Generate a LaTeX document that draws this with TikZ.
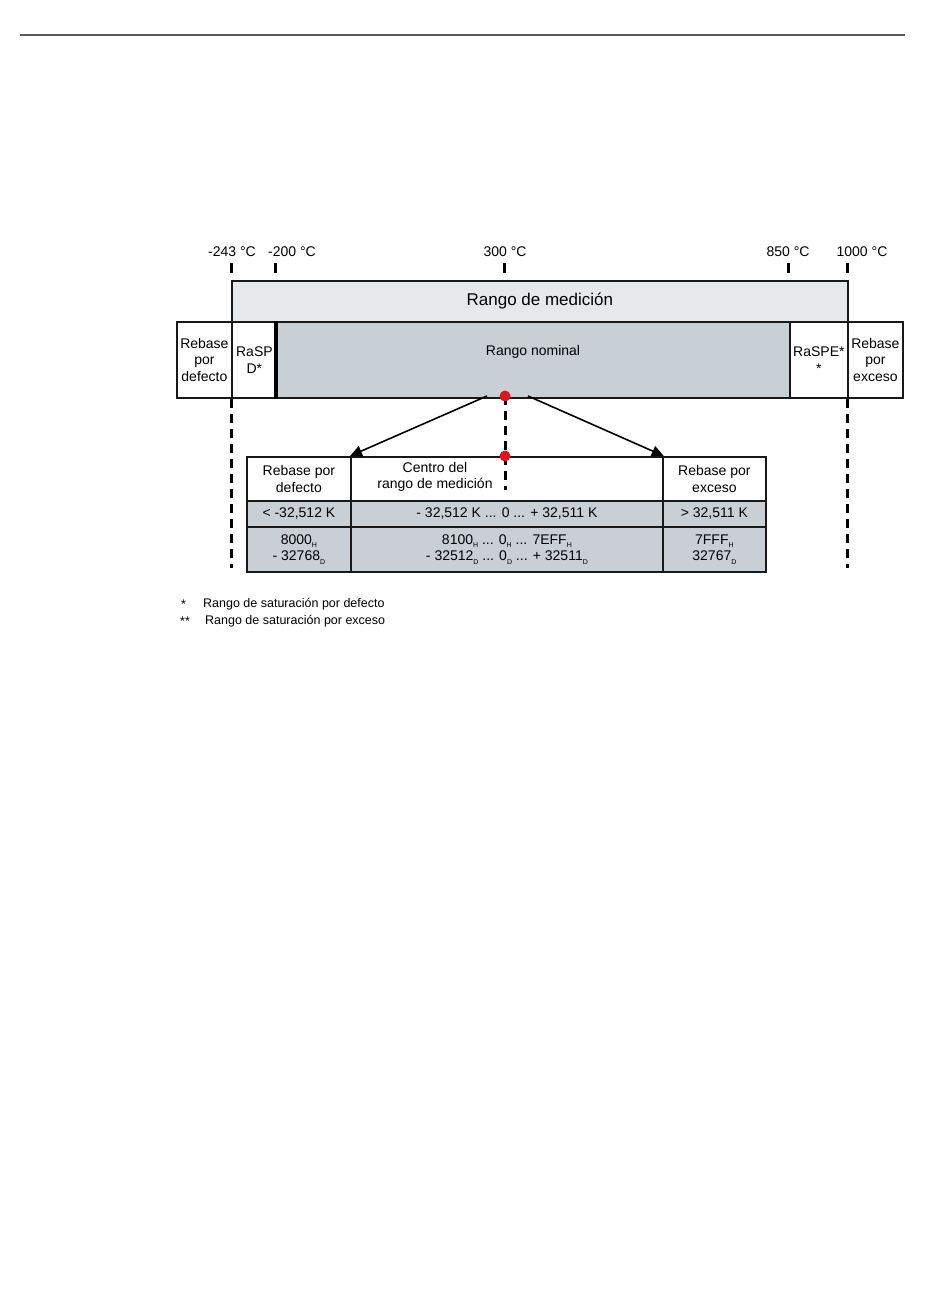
\documentclass[tikz,border=0pt]{standalone}
\usepackage{fontspec}
\setmainfont{Liberation Sans}
\usetikzlibrary{arrows.meta,positioning,calc}
\definecolor{cmed}{HTML}{E6E9EC}
\definecolor{cnom}{HTML}{C8CFD5}
\definecolor{crule}{HTML}{5A5A5A}
\definecolor{cdot}{HTML}{E0151B}
\newcommand{\subH}{\raisebox{-3.5pt}{\fontsize{7}{7}\selectfont H}}
\newcommand{\subD}{\raisebox{-3.5pt}{\fontsize{7}{7}\selectfont D}}

\begin{document}
\begin{tikzpicture}[x=1pt, y=-1pt,
    seg/.style={draw=black!90, line width=1.8pt, align=center, inner sep=0pt, anchor=north west,
                font=\fontsize{14}{16.5}\selectfont},
    tcell/.style={seg, fill=cnom},
    lbl/.style={inner sep=0pt, align=center, font=\fontsize{14}{16.5}\selectfont},
    tickmark/.style={line width=3pt},
    dsh/.style={line width=3pt, dash pattern=on 9pt off 6pt},
    rdot/.style={circle, fill=cdot, inner sep=0pt, minimum size=11pt},
    arr/.style={-{Triangle[length=12pt,width=11pt]}, line width=1.6pt},
    note/.style={inner sep=0pt, anchor=west, font=\fontsize{12.5}{15}\selectfont}
]
\useasboundingbox (0,0) rectangle (950,1301);

\draw[crule, line width=1.8pt] (20,35) -- (905,35);

% scale
\foreach \tx/\lx/\tv in {231/232/-243, 275/292/-200, 504/505/300, 788/788/850, 847/862/1000}
  \draw[tickmark] (\tx,263) -- (\tx,273) node[lbl, pos=0, above=5pt, xshift=\lx pt-\tx pt] {\tv~°C};

% bar
\node[seg, fill=cmed, minimum width=616pt, minimum height=41pt,
      font=\fontsize{17}{20}\selectfont] (med) at (231,280) {Rango de medición};
\node[seg, minimum width=55pt, minimum height=76pt] (rpd) at (176,321) {Rebase\\por\\defecto};
\node[seg, minimum width=45pt, minimum height=76pt] (raspd) at (231,321) {RaSP\\D*};
\node[seg, fill=cnom, minimum width=513pt, minimum height=76pt] (nom) at (276,321) {};
\node[seg, minimum width=58pt, minimum height=76pt] (raspe) at (789,321) {RaSPE*\\*};
\node[seg, minimum width=55pt, minimum height=76pt] (rpe) at (847,321) {Rebase\\por\\exceso};
\draw[line width=3.2pt] (nom.north west) -- (nom.south west);
\node[lbl] (nomlbl) at (533,352) {Rango nominal};

% table
\node[seg, minimum width=104pt, minimum height=44pt] (h1) at (246,456) {Rebase por\\defecto};
\node[seg, minimum width=312pt, minimum height=44pt] (h2) at (350,456) {};
\node[seg, minimum width=103pt, minimum height=44pt] (h3) at (662,456) {Rebase por\\exceso};
\node[tcell, minimum width=104pt, minimum height=26pt] (a1) at (246,500) {< -32,512 K};
\node[tcell, minimum width=312pt, minimum height=26pt] (a2) at (350,500) {- 32,512 K ... 0 ... + 32,511 K};
\node[tcell, minimum width=103pt, minimum height=26pt] (a3) at (662,500) {> 32,511 K};
\node[tcell, minimum width=104pt, minimum height=45pt] (b1) at (246,526) {8000\subH\\- 32768\subD};
\node[tcell, minimum width=312pt, minimum height=45pt] (b2) at (350,526)
     {8100\subH{} ... 0\subH{} ... 7EFF\subH\\- 32512\subD{} ... 0\subD{} ... + 32511\subD};
\node[tcell, minimum width=103pt, minimum height=45pt] (b3) at (662,526) {7FFF\subH\\32767\subD};
\node[lbl] (ctr) at (435,477) {Centro del\\rango de medición};

% guides
\coordinate (c1) at (505,396);
\coordinate (c2) at (505,456);
\coordinate (cend) at (505,490);
\coordinate (lend) at (231,568);
\coordinate (rend) at (847,568);
\draw[dsh] (c1) -- (cend);
\draw[dsh] (raspd.south west) -- (lend);
\draw[dsh] (rpe.south west) -- (rend);
\draw[arr] ($(c1)+(-18,0)$) -- (h2.north west);
\draw[arr] ($(c1)+(23,0)$) -- (h2.north east);
\node[rdot] (d1) at (c1) {};
\node[rdot] (d2) at (c2) {};

% notes
\node[note] (n1) at (181,604) {*};
\node[note] (n1t) at (203,604) {Rango de saturación por defecto};
\node[note] (n2) at (180,621) {**};
\node[note] (n2t) at (205,621) {Rango de saturación por exceso};
\end{tikzpicture}
\end{document}
